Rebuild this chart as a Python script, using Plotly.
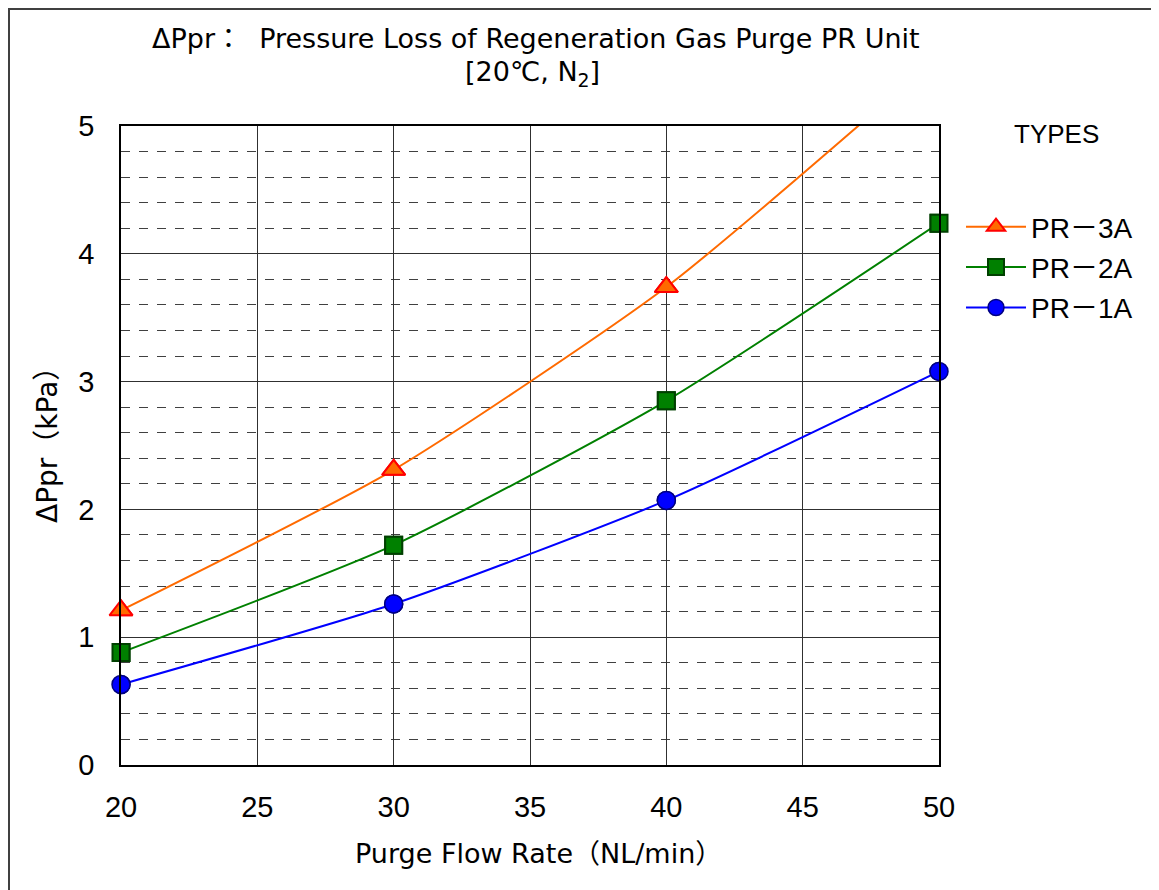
import plotly.graph_objects as go

flow = [20, 30, 40, 50]
pr3a = [1.21, 2.31, 3.74, 5.55]
pr2a = [0.88, 1.72, 2.85, 4.24]
pr1a = [0.63, 1.26, 2.07, 3.08]

names = ["PR－3A", "PR－2A", "PR－1A"]
x_ticks = [20, 25, 30, 35, 40, 45, 50]
y_ticks = [0, 1, 2, 3, 4, 5]
y_max = 5

FONT = "Liberation Sans, Noto Sans CJK JP, sans-serif"
WIDE = "DejaVu Sans, Noto Sans CJK JP, sans-serif"

# the page body adds an 8px offset; the figure is sized to compensate
OFF = 8
W, H = 1159 - OFF, 890 - OFF
L, R, T, B = 121, 939, 126, 765          # plot area in page pixels
pw, ph = R - L, B - T


def px(x):
    return (x - L) / pw


def py(y):
    return (B - y) / ph


fig = go.Figure()

styles = [
    dict(line=dict(color="#FF6A00", width=2),
         marker=dict(symbol="triangle-up", size=20, color="#FF6A00",
                     line=dict(color="#FF0000", width=2))),
    dict(line=dict(color="#008000", width=2),
         marker=dict(symbol="square", size=17, color="#008000",
                     line=dict(color="#004000", width=2))),
    dict(line=dict(color="#0000FF", width=2),
         marker=dict(symbol="circle", size=18, color="#0000FF",
                     line=dict(color="#000080", width=1.5))),
]

series = [pr3a, pr2a, pr1a]

# lines (clipped to the plot area)
for name, ys, st in zip(names, series, styles):
    fig.add_trace(go.Scatter(
        x=flow, y=ys, name=name, mode="lines+markers",
        line=dict(shape="spline", smoothing=0.6, **st["line"]),
        marker=st["marker"], legendgroup=name,
    ))

# markers drawn unclipped so edge points are whole (only those in range)
for name, ys, st in zip(names, series, styles):
    pts = [(x, y) for x, y in zip(flow, ys) if y <= y_max]
    fig.add_trace(go.Scatter(
        x=[p[0] for p in pts], y=[p[1] for p in pts], mode="markers",
        marker=st["marker"], cliponaxis=False, showlegend=False,
        legendgroup=name, hoverinfo="skip",
    ))

ann = dict(xref="paper", yref="paper", showarrow=False,
           xanchor="center", yanchor="middle")

fig.update_layout(
    width=W, height=H,
    margin=dict(l=L - OFF, r=W - (R - OFF), t=T - OFF, b=H - (B - OFF),
                autoexpand=False),
    paper_bgcolor="white", plot_bgcolor="white",
    font=dict(family=FONT, color="black", size=24),
    showlegend=True,
    legend=dict(
        x=px(961), xanchor="left", y=py(202), yanchor="top",
        font=dict(family=FONT, size=28, color="black"),
        bgcolor="rgba(0,0,0,0)", itemwidth=60, tracegroupgap=1,
    ),
    xaxis=dict(
        range=[20, 50], tickvals=x_ticks, ticktext=[str(v) for v in x_ticks],
        showline=True, linecolor="black", linewidth=1.5, mirror=True,
        showgrid=True, gridcolor="#303030", gridwidth=1,
        zeroline=False, ticks="", ticklabelstandoff=15,
        tickfont=dict(family=FONT, size=29, color="black"),
    ),
    yaxis=dict(
        range=[0, y_max], tickvals=y_ticks, ticktext=[str(v) for v in y_ticks],
        showline=True, linecolor="black", linewidth=1.5, mirror=True,
        showgrid=True, gridcolor="#303030", gridwidth=1,
        zeroline=False, ticks="", ticklabelstandoff=19,
        tickfont=dict(family=FONT, size=29, color="black"),
        minor=dict(dtick=0.2, showgrid=True, griddash="dash",
                   gridcolor="#404040", gridwidth=1),
    ),
    annotations=[
        dict(text="ΔPpr：  Pressure Loss of Regeneration Gas Purge PR Unit",
             x=px(536), y=py(38), font=dict(family=WIDE, size=27), **ann),
        dict(text="[20℃, N<sub>2</sub>]",
             x=px(532), y=py(74), font=dict(family=WIDE, size=27), **ann),
        dict(text="ΔPpr（kPa）", textangle=-90,
             x=px(47), y=py(438), font=dict(family=WIDE, size=28), **ann),
        dict(text="Purge Flow Rate（NL/min）",
             x=px(538), y=py(853), font=dict(family=WIDE, size=27), **ann),
        dict(text="TYPES", x=px(1056), y=py(134),
             font=dict(family=FONT, size=26), **ann),
    ],
    shapes=[dict(
        type="rect", xref="paper", yref="paper",
        x0=px(OFF + 1), x1=px(1175), y0=py(905), y1=py(OFF + 1),
        line=dict(color="#404040", width=2), fillcolor="rgba(0,0,0,0)",
        layer="below",
    )],
)

fig.write_html("out.html")
